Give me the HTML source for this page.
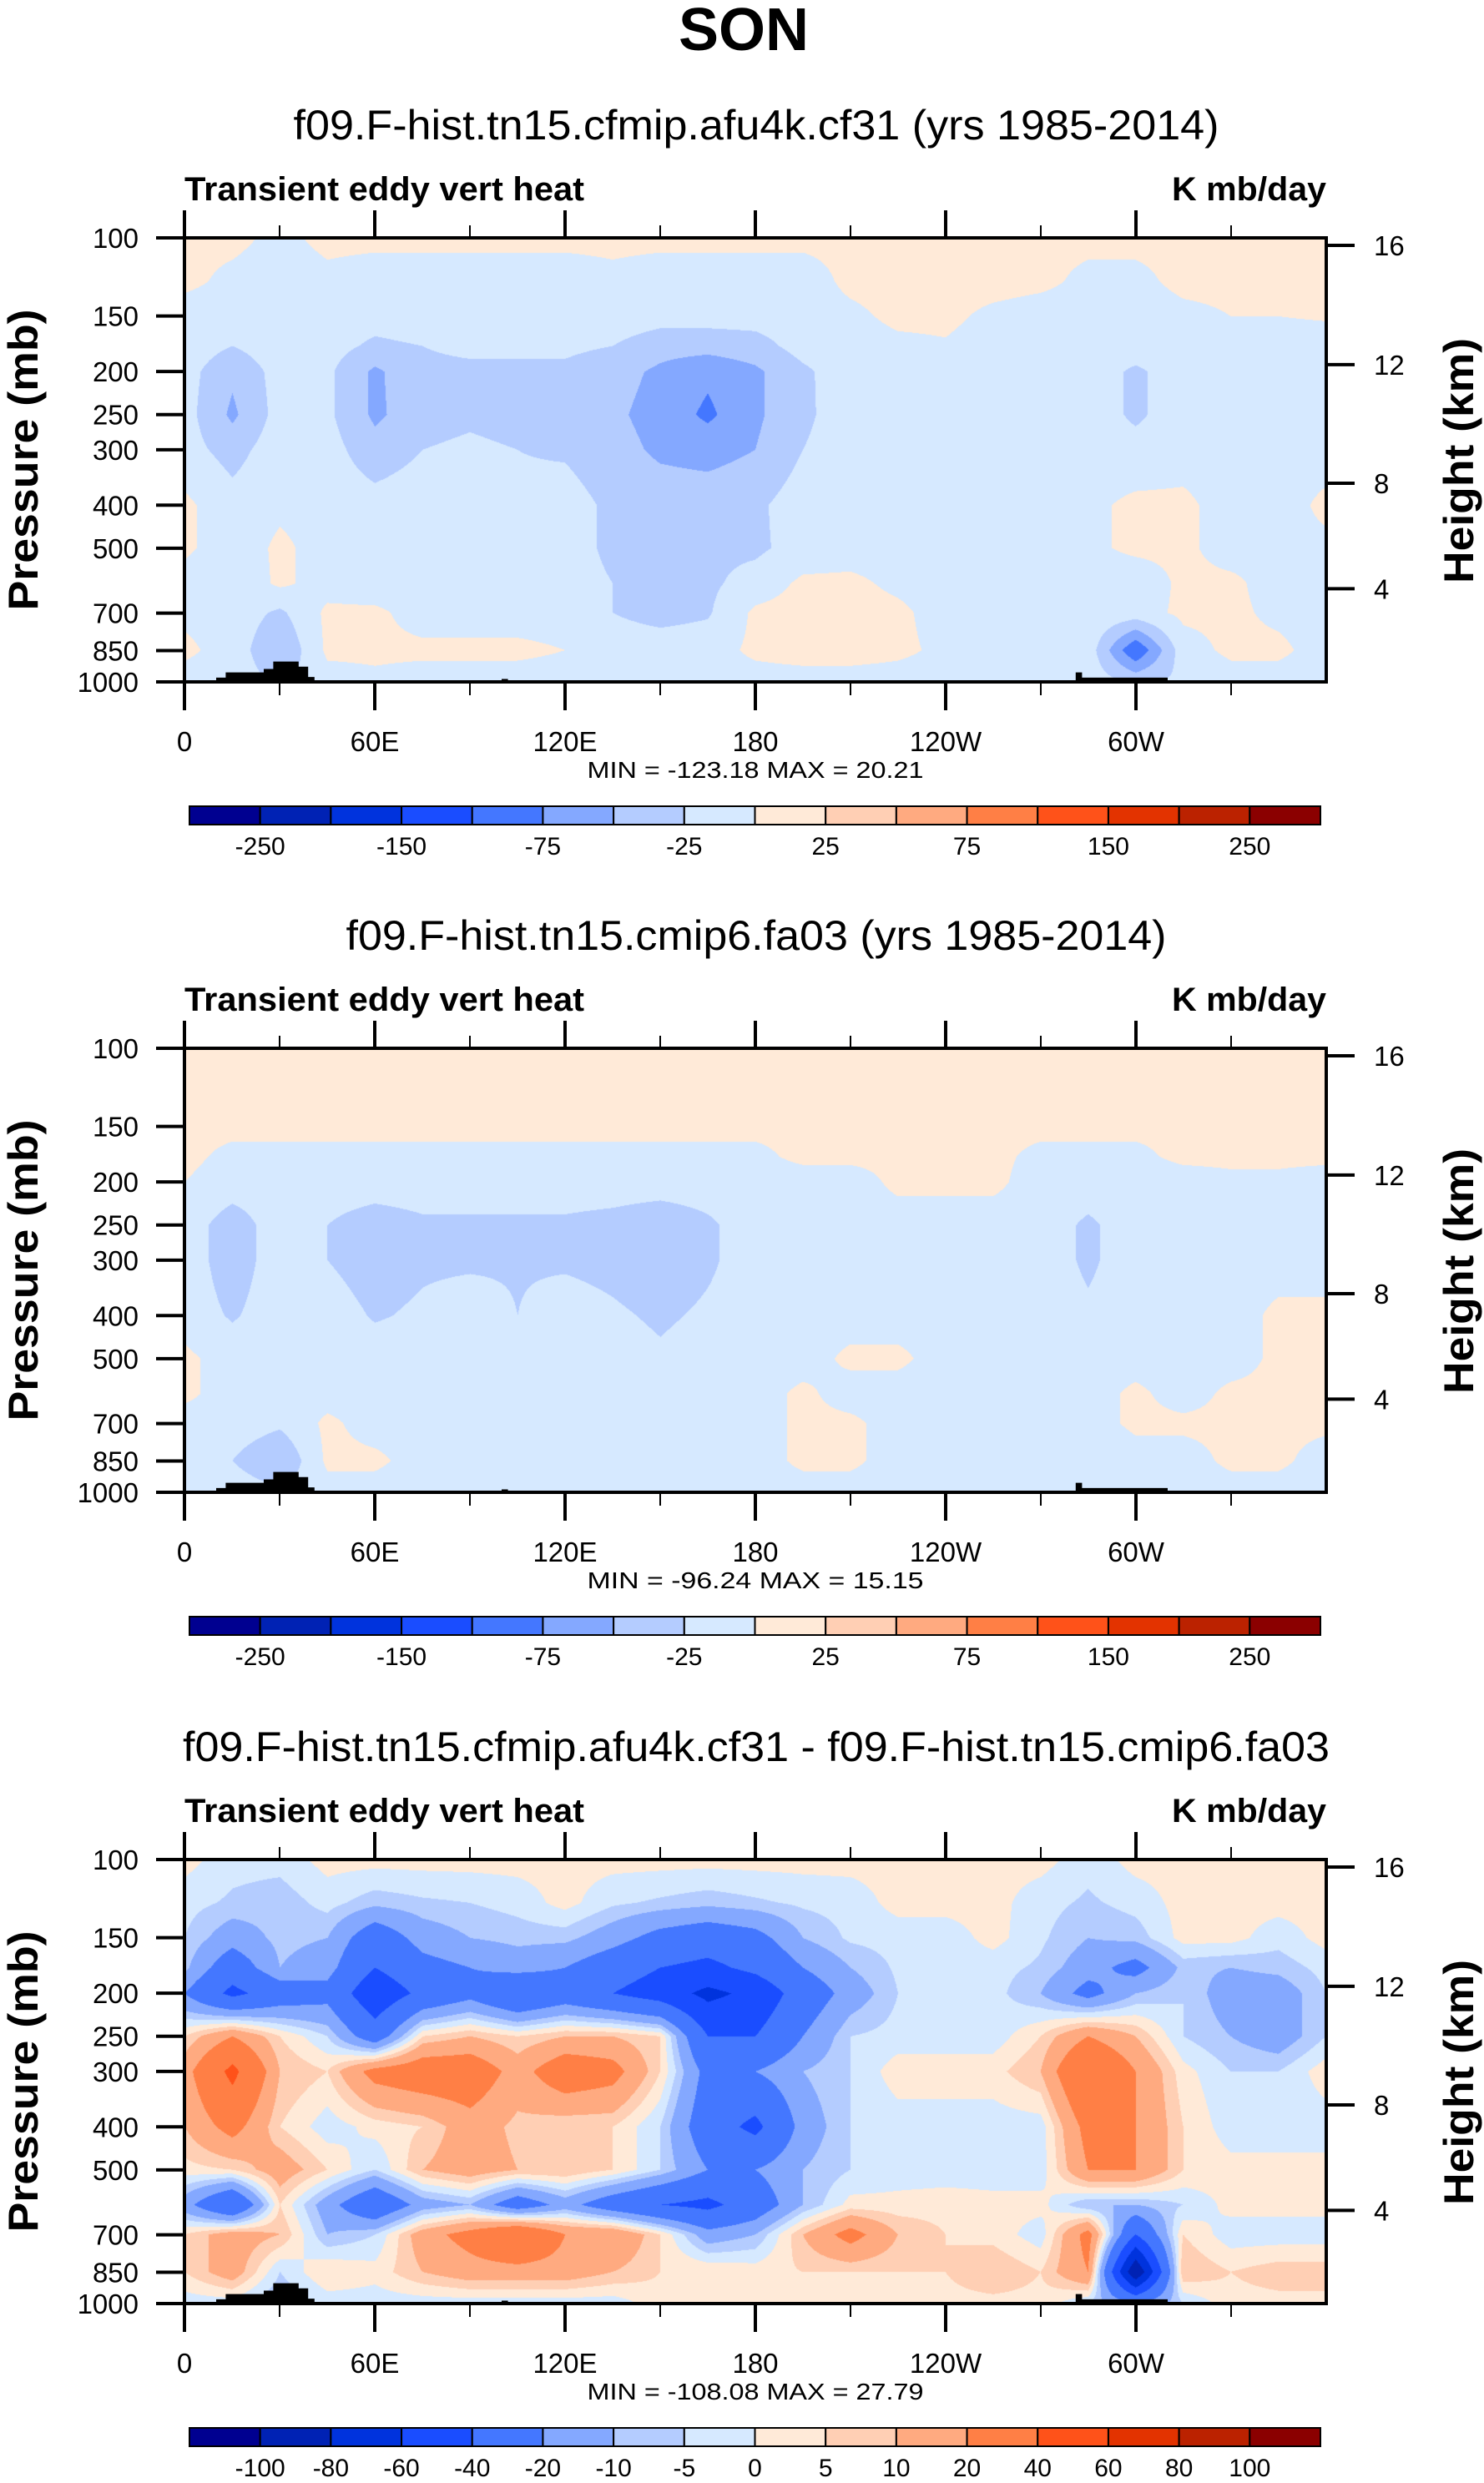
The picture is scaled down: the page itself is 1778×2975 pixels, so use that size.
<!DOCTYPE html>
<html><head><meta charset="utf-8"><style>
body{margin:0;background:#fff}
#root{position:relative;width:1778px;height:2975px;overflow:hidden;background:#fff}
canvas{position:absolute}
svg{position:absolute;left:0;top:0}
text{font-family:"Liberation Sans",sans-serif;fill:#000}
</style></head><body>
<div id="root">
<canvas id="c0" width="1368" height="532" style="left:221px;top:285px"></canvas>
<canvas id="c1" width="1368" height="532" style="left:221px;top:1256px"></canvas>
<canvas id="c2" width="1368" height="532" style="left:221px;top:2228px"></canvas>
<svg id="svg" width="1778" height="2975" xmlns="http://www.w3.org/2000/svg">
<text x="891" y="60" font-size="72" font-weight="bold" text-anchor="middle">SON</text>
</svg>
</div>
<script>
const levels=[100,125,150,175,200,250,300,400,500,600,700,850,1000];
const lons=[0,15,30,45,60,75,90,105,120,135,150,165,180,195,210,225,240,255,270,285,300,315,330,345,360];
const colors=["#000090","#0022b4","#0033dd","#1a4dff","#4477ff","#84a8ff","#b4ccff","#d6e9ff","#ffead8","#ffcfb4","#ffaa80","#ff7f45","#ff5219","#e33300","#bb2200","#8b0000"];
const boundsAbs=[-250,-200,-150,-100,-75,-50,-25,0,25,50,75,100,150,200,250];
const boundsDiff=[-100,-80,-60,-40,-20,-10,-5,0,5,10,20,40,60,80,100];
const labelsAbs=["-250","-150","-75","-25","25","75","150","250"];
const labelsDiff=["-100","-80","-60","-40","-20","-10","-5","0","5","10","20","40","60","80","100"];
const lonTickVals=[0,60,120,180,240,300];
const lonTickLabels=["0","60E","120E","180","120W","60W"];
const lonMinorVals=[30,90,150,210,270,330];
const presTickVals=[100,150,200,250,300,400,500,700,850,1000];
const heightLabels=["4","8","12","16"];
const heightPres=[617,357,193,104];
const topoLon=[10,13,25,28,36,39,41,100,102,281,283,310];
const topoP=[978,952,935,900,924,975,1000,985,1000,952,978,1000];
const titles=["f09.F-hist.tn15.cfmip.afu4k.cf31 (yrs 1985-2014)","f09.F-hist.tn15.cmip6.fa03 (yrs 1985-2014)","f09.F-hist.tn15.cfmip.afu4k.cf31 - f09.F-hist.tn15.cmip6.fa03"];
const titleWidths=[1109,983,1374];
const minmax=["MIN = -123.18  MAX =  20.21","MIN = -96.24  MAX =  15.15","MIN = -108.08  MAX =  27.79"];

const field1=[
[5,5,-5,5,5,5,5,5,5,5,5,5,5,5,5,5,5,5,5,5,5,5,5,5,5],
[5,-5,-10,-5,-10,-10,-10,-10,-10,-5,-10,-10,-10,-10,5,8,8,8,5,-5,-5,5,5,5,5],
[-10,-10,-10,-10,-15,-10,-10,-10,-10,-10,-15,-15,-15,-10,-5,5,5,-5,-10,-10,-10,-5,0,0,2],
[-10,-25,-10,-15,-30,-25,-20,-15,-20,-25,-40,-40,-35,-15,-10,-5,-2,-10,-10,-12,-10,-10,-10,-10,-10],
[-15,-45,-15,-20,-55,-30,-30,-35,-30,-40,-55,-70,-55,-30,-10,-10,-10,-10,-10,-10,-30,-10,-10,-10,-10],
[-15,-55,-15,-20,-55,-35,-30,-35,-30,-45,-60,-80,-55,-30,-12,-10,-10,-10,-10,-10,-30,-10,-10,-10,-10],
[-15,-35,-10,-15,-40,-25,-20,-25,-28,-40,-55,-60,-50,-25,-12,-10,-10,-10,-10,-10,-15,-10,-10,-10,-10],
[5,-15,-5,-10,-15,-10,-15,-20,-15,-30,-35,-35,-30,-12,-10,-10,-10,-10,-10,-5,5,5,-10,-10,5],
[5,-15,5,-10,-12,-10,-15,-15,-15,-30,-30,-30,-30,-15,-10,-10,-10,-10,-10,-5,5,5,-10,-5,-5],
[-10,-20,5,-10,-15,-12,-12,-15,-15,-25,-30,-30,-15,5,5,-5,-10,-10,-10,-10,-15,5,5,-10,-10],
[-5,-10,-30,5,5,-10,-10,-10,-10,-25,-35,-28,5,10,10,5,-10,-10,-5,-5,-10,5,5,-5,-10],
[5,-10,-50,5,5,5,5,5,0,-10,-10,-10,5,10,10,5,-5,-10,-5,-10,-100,-10,5,5,-10],
[-10,-10,-30,-10,-5,-10,-10,-10,-10,-10,-10,-10,-10,-10,-10,-10,-10,-10,-10,-10,-30,-20,-10,-10,-10]];
const field2=[
[5,5,5,5,5,5,5,5,5,5,5,5,5,5,5,5,5,5,5,5,5,5,5,5,5],
[5,5,5,5,5,5,5,5,5,5,5,5,5,5,5,5,5,5,5,5,5,5,5,5,5],
[5,5,5,5,5,5,5,5,5,5,5,5,5,5,5,5,5,5,5,5,5,5,5,5,5],
[5,-5,-5,-5,-5,-5,-5,-5,-5,-5,-5,-5,-5,5,5,5,5,5,-5,-5,-5,5,5,5,5],
[0,-10,-10,-10,-10,-10,-10,-10,-10,-10,-10,-10,-10,-10,-10,5,5,5,-10,-10,-10,-10,-5,-5,-10],
[-10,-40,-10,-25,-40,-30,-30,-30,-30,-35,-45,-30,-10,-10,-10,-10,-10,-10,-10,-30,-10,-10,-10,-10,-10],
[-10,-40,-10,-25,-40,-30,-30,-28,-30,-35,-45,-30,-10,-10,-10,-10,-10,-10,-10,-30,-10,-10,-10,-10,-10],
[-10,-28,-10,-10,-28,-20,-10,-25,-10,-20,-30,-20,-10,-10,-10,-10,-10,-10,-10,-20,-10,-10,-10,5,5],
[5,-10,-10,-10,-10,-10,-10,-15,-10,-10,-20,-10,-10,-10,5,5,-10,-10,-10,-10,-10,-10,-10,5,5],
[5,-10,-10,-10,-10,-10,-10,-10,-10,-10,-10,-10,-10,5,-10,-10,-10,-10,-10,-10,5,-10,5,5,5],
[-10,-10,-20,5,-10,-10,-10,-10,-10,-20,-10,-10,-10,5,5,-10,-10,-10,-10,-10,5,5,5,5,5],
[-10,-25,-50,5,5,-10,-10,-10,-10,-10,-10,-10,-10,5,5,-10,-10,-10,-10,-20,-10,-10,5,5,-10],
[-10,-10,-20,-10,-10,-10,-10,-10,-10,-10,-10,-10,-10,-10,-10,-10,-10,-10,-10,-10,-20,-10,-10,-10,-10]];
const field3=[
[2,-3,-3,2,2,2,2,2,2,2,2,2,2,2,2,2,2,2,2,-3,2,2,2,2,2],
[-3,-6,-8,-3,-8,-6,-5,-3,2,-4,-6,-8,-6,-4,-3,2,2,2,-3,-6,-3,2,2,2,2],
[-5,-15,-8,-10,-30,-15,-10,-8,-8,-15,-25,-30,-25,-10,-4,-3,-3,2,-4,-10,-8,2,2,-3,2],
[-8,-30,-10,-15,-40,-25,-20,-15,-20,-30,-40,-45,-35,-20,-10,-4,-3,-3,-6,-15,-25,-8,-10,-8,-3],
[-20,-45,-30,-25,-55,-35,-25,-40,-30,-40,-50,-65,-55,-30,-15,-5,-3,-3,-10,-25,-10,-5,-15,-15,-5],
[5,20,5,-5,-30,5,10,5,10,10,5,-40,-40,-20,-5,-3,-3,-3,5,20,10,-5,-10,-15,-5],
[15,45,10,5,25,30,30,15,30,25,5,-25,-20,-10,-5,3,3,3,10,40,20,2,-5,-5,3],
[10,25,5,-3,2,5,15,8,5,5,-5,-30,-45,-15,-5,-3,-3,-3,-3,25,20,5,-3,-3,-3],
[3,5,15,5,-5,10,15,10,10,5,-5,-20,-20,-10,-5,-3,-3,-3,-3,20,20,5,2,2,2],
[-15,-40,5,-15,-35,-15,-10,-30,-15,-30,-40,-45,-30,-10,2,2,3,2,2,-10,-10,-5,2,2,2],
[5,15,10,-10,-5,15,25,40,20,20,5,-15,-10,10,25,10,5,3,-3,25,-40,5,-3,-3,-3],
[5,15,-5,5,2,10,15,15,15,10,5,5,3,5,5,5,5,10,5,20,-100,10,5,8,8],
[-3,-3,-10,-3,-3,-3,-3,-3,-3,-3,3,3,3,3,3,3,3,3,3,-5,-20,-5,3,3,3]];

const L=221,R=1589,T=285,B=817;
const offsets=[0,971,1943];
const NS="http://www.w3.org/2000/svg";
const svg=document.getElementById('svg');
function xs(lon){return L+lon/360*(R-L);}
function ys(p,o){return o+T+Math.log10(p/100)*(B-T);}
function hex(c){return [parseInt(c.substr(1,2),16),parseInt(c.substr(3,2),16),parseInt(c.substr(5,2),16)];}
const rgb=colors.map(hex);
function mk(tag,attrs,txt){const e=document.createElementNS(NS,tag);for(const k in attrs)e.setAttribute(k,attrs[k]);if(txt!==undefined)e.textContent=txt;svg.appendChild(e);return e;}

function drawField(id,field,bounds){
  const cv=document.getElementById(id),ctx=cv.getContext('2d');
  const W=cv.width,H=cv.height,img=ctx.createImageData(W,H),d=img.data;
  const ll=levels.map(v=>Math.log10(v));
  for(let py=0;py<H;py++){
    const lp=2+py/(H-1);
    let k=0;while(k<levels.length-2&&ll[k+1]<lp)k++;
    const t=Math.min(1,Math.max(0,(lp-ll[k])/(ll[k+1]-ll[k])));
    for(let px=0;px<W;px++){
      const lon=px/(W-1)*360;
      let j=0;while(j<lons.length-2&&lons[j+1]<lon)j++;
      const s=(lon-lons[j])/(lons[j+1]-lons[j]);
      const v=(field[k][j]*(1-s)+field[k][j+1]*s)*(1-t)+(field[k+1][j]*(1-s)+field[k+1][j+1]*s)*t;
      let ci=0;while(ci<bounds.length&&v>=bounds[ci])ci++;
      const c=rgb[ci],q=(py*W+px)*4;
      d[q]=c[0];d[q+1]=c[1];d[q+2]=c[2];d[q+3]=255;
    }
  }
  ctx.putImageData(img,0,0);
}
drawField('c0',field1,boundsAbs);
drawField('c1',field2,boundsAbs);
drawField('c2',field3,boundsDiff);

offsets.forEach((o,pi)=>{
  let dpath='';
  for(let i=0;i<topoLon.length-1;i++){
    const x0=xs(topoLon[i]),x1=xs(topoLon[i+1]),y0=ys(topoP[i],o);
    if(topoP[i]<1000) dpath+='M'+x0+' '+(o+B)+'V'+y0+'H'+x1+'V'+(o+B)+'Z';
  }
  const topo=mk('path',{d:dpath,fill:'#000'});
  
  
  const fr=mk('rect',{x:L,y:o+T,width:R-L,height:B-T,fill:'none',stroke:'#000','stroke-width':4});
  
  
  const st=mk('text',{x:906,y:o+167,'font-size':50,'text-anchor':'middle',textLength:titleWidths[pi],lengthAdjust:'spacingAndGlyphs'},titles[pi]);
  
  
  const lt=mk('text',{x:L,y:o+240,'font-size':40,'font-weight':'bold',textLength:479,lengthAdjust:'spacingAndGlyphs'},'Transient eddy vert heat');
  
  
  const ut=mk('text',{x:R,y:o+240,'font-size':40,'font-weight':'bold','text-anchor':'end',textLength:185,lengthAdjust:'spacingAndGlyphs'},'K mb/day');
  
  
  lonTickVals.forEach((v,i)=>{
    const x=xs(v);
    const t1=mk('line',{x1:x,x2:x,y1:o+T-33,y2:o+T,stroke:'#000','stroke-width':4});
    
    
    const t2=mk('line',{x1:x,x2:x,y1:o+B,y2:o+B+34,stroke:'#000','stroke-width':4});
    
    
    const tl=mk('text',{x:x,y:o+900,'font-size':33,'text-anchor':'middle'},lonTickLabels[i]);
    
    
  });
  lonMinorVals.forEach(v=>{
    const x=xs(v);
    const m1=mk('line',{x1:x,x2:x,y1:o+T-15,y2:o+T,stroke:'#000','stroke-width':2});
    
    
    const m2=mk('line',{x1:x,x2:x,y1:o+B,y2:o+B+16,stroke:'#000','stroke-width':2});
    
    
  });
  presTickVals.forEach(p=>{
    const y=ys(p,o);
    const pt=mk('line',{x1:L-34,x2:L,y1:y,y2:y,stroke:'#000','stroke-width':4});
    
    
    const pl=mk('text',{x:166,y:y+12,'font-size':33,'text-anchor':'end'},String(p));
    
    
  });
  heightPres.forEach((p,i)=>{
    const y=ys(p,o);
    const ht=mk('line',{x1:R,x2:R+34,y1:y,y2:y,stroke:'#000','stroke-width':4});
    
    
    const hl=mk('text',{x:1646,y:y+12,'font-size':33},heightLabels[i]);
    
    
  });
  const ya=mk('text',{x:0,y:0,'font-size':50,'font-weight':'bold','text-anchor':'middle',transform:'translate(45,'+(o+551)+') rotate(-90)',textLength:361,lengthAdjust:'spacingAndGlyphs'},'Pressure (mb)');
  
  
  const ha=mk('text',{x:0,y:0,'font-size':50,'font-weight':'bold','text-anchor':'middle',transform:'translate(1765,'+(o+552)+') rotate(-90)',textLength:294,lengthAdjust:'spacingAndGlyphs'},'Height (km)');
  
  
  const mm=mk('text',{x:905,y:o+932,'font-size':28,'text-anchor':'middle',textLength:403,lengthAdjust:'spacingAndGlyphs'},minmax[pi]);
  
  
  const cbL=227,cbR=1582,cbT=o+966,cbH=22,bw=(cbR-cbL)/16;
  colors.forEach((c,i)=>{
    const r=mk('rect',{x:cbL+i*bw,y:cbT,width:bw,height:cbH,fill:c,stroke:'#000','stroke-width':2});
    
    
  });
  if(pi<2){
    labelsAbs.forEach((lab,i)=>{
      const b=cbL+(2*i+1)*bw;
      const cl=mk('text',{x:b,y:o+1024,'font-size':30,'text-anchor':'middle'},lab);
      
      
    });
  } else {
    labelsDiff.forEach((lab,i)=>{
      const b=cbL+(i+1)*bw;
      const cl=mk('text',{x:b,y:o+1024,'font-size':30,'text-anchor':'middle'},lab);
      
      
    });
  }
});
</script>
</body></html>
